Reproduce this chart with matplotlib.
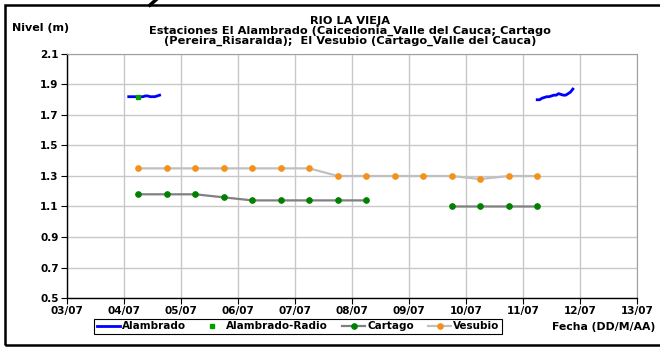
"""
Niveles del Rio La Vieja: estaciones El Alambrado, Cartago y El Vesubio
"""
import numpy as np
import pandas as pd
import matplotlib
matplotlib.use('Agg')
from matplotlib import pyplot as plt
from matplotlib import dates as mdates
from matplotlib.patches import Rectangle
from matplotlib.lines import Line2D

# Alambrado, lecturas horarias (dos tramos)
alambrado_ini_1 = '2007-07-04 02:00'
alambrado_1 = [1.82, 1.82, 1.82, 1.82, 1.82, 1.82, 1.82, 1.825, 1.825, 1.82,
               1.82, 1.82, 1.825, 1.83]
alambrado_ini_2 = '2007-07-11 06:00'
alambrado_2 = [1.80, 1.80, 1.81, 1.815, 1.82, 1.82, 1.825, 1.83, 1.83, 1.84,
               1.835, 1.83, 1.83, 1.84, 1.85, 1.87]

# Alambrado-Radio
radio_fecha = ['2007-07-04 06:00']
radio_nivel = [1.82]

# Cartago y Vesubio, lecturas de 06:00 y 18:00
lecturas_ini = '2007-07-04 06:00'
cartago = [1.18, 1.18, 1.18, 1.16, 1.14, 1.14, 1.14, 1.14, 1.14,
           np.nan, np.nan, 1.10, 1.10, 1.10, 1.10]
vesubio = [1.35, 1.35, 1.35, 1.35, 1.35, 1.35, 1.35, 1.30, 1.30, 1.30,
           1.30, 1.30, 1.28, 1.30, 1.30]

eje_y = [0.5, 0.7, 0.9, 1.1, 1.3, 1.5, 1.7, 1.9, 2.1]
fecha_ini, fecha_fin = '2007-07-03', '2007-07-13'

plt.rcParams['font.family'] = ['DejaVu Sans']
plt.rcParams['font.weight'] = 'bold'
plt.rcParams['font.size'] = 7.5

fig = plt.figure(figsize=(6.6, 3.47), dpi=100)
ax = fig.add_axes([0.1015, 0.1412, 0.8636, 0.7032])

t_a1 = pd.date_range(alambrado_ini_1, periods=len(alambrado_1), freq='h')
t_a2 = pd.date_range(alambrado_ini_2, periods=len(alambrado_2), freq='h')
t_lec = pd.date_range(lecturas_ini, periods=len(vesubio), freq='12h')

ax.plot(t_lec, vesubio, color='#c0c0c0', lw=1.6, marker='o', ms=3.8,
        mfc='#f5901a', mec='#f5901a', label='Vesubio', zorder=3)
ax.plot(t_lec, cartago, color='#808080', lw=1.6, marker='o', ms=3.8,
        mfc='#008000', mec='#008000', label='Cartago', zorder=3)
ax.plot(t_a1, alambrado_1, color='#0000ff', lw=2, label='Alambrado', zorder=4)
ax.plot(t_a2, alambrado_2, color='#0000ff', lw=2, zorder=4)
ax.plot(pd.to_datetime(radio_fecha), radio_nivel, ls='none', marker='s', ms=2.5,
        color='#00a000', label='Alambrado-Radio', zorder=5)

ax.set_xlim(pd.Timestamp(fecha_ini), pd.Timestamp(fecha_fin))
ax.set_ylim(eje_y[0], eje_y[-1])
ax.set_yticks(eje_y)
ax.yaxis.set_major_formatter(plt.FormatStrFormatter('%.1f'))
ax.xaxis.set_major_locator(mdates.DayLocator())
ax.xaxis.set_major_formatter(mdates.DateFormatter('%d/%m'))
ax.grid(True, color='#c8c8c8', lw=1)
ax.set_axisbelow(True)
ax.tick_params(direction='out', length=4, width=0.8, pad=2, labelsize=7.5)
for s in ['top', 'right']:
    ax.spines[s].set_color('#a0a0a0')
for s in ['left', 'bottom']:
    ax.spines[s].set_color('black')
    ax.spines[s].set_linewidth(1)

titulo = ('RIO LA VIEJA\n'
          'Estaciones El Alambrado (Caicedonia_Valle del Cauca; Cartago\n'
          '(Pereira_Risaralda);  El Vesubio (Cartago_Valle del Cauca)')
fig.text(0.530, 0.955, titulo, ha='center', va='top', fontsize=8.2,
         fontweight='bold', linespacing=0.97)
fig.text(0.018, 0.92, 'Nivel (m)', ha='left', va='center', fontsize=8,
         fontweight='bold')
fig.text(0.993, 0.058, 'Fecha (DD/M/AA)', ha='right', va='center',
         fontsize=7.8, fontweight='bold')

orden = ['Alambrado', 'Alambrado-Radio', 'Cartago', 'Vesubio']
h, l = ax.get_legend_handles_labels()
h = [h[l.index(n)] for n in orden]
leg = fig.legend(h, orden, ncol=4, loc='center', bbox_to_anchor=(0.452, 0.06),
                 frameon=True, fancybox=False, edgecolor='black',
                 fontsize=7.5, handlelength=2.2, handletextpad=0.2,
                 columnspacing=1.4, borderpad=0.25, framealpha=1)
leg.get_frame().set_linewidth(0.8)

# marco exterior
fig.patches.append(Rectangle((0.0076, 0.0058), 1.2, 0.98, transform=fig.transFigure,
                             fill=False, edgecolor='black', lw=1.8))
fig.lines.append(Line2D([0.227, 0.236], [0.985, 1.0], transform=fig.transFigure,
                        color='black', lw=2.5))

fig.savefig('out.png', dpi=100)
